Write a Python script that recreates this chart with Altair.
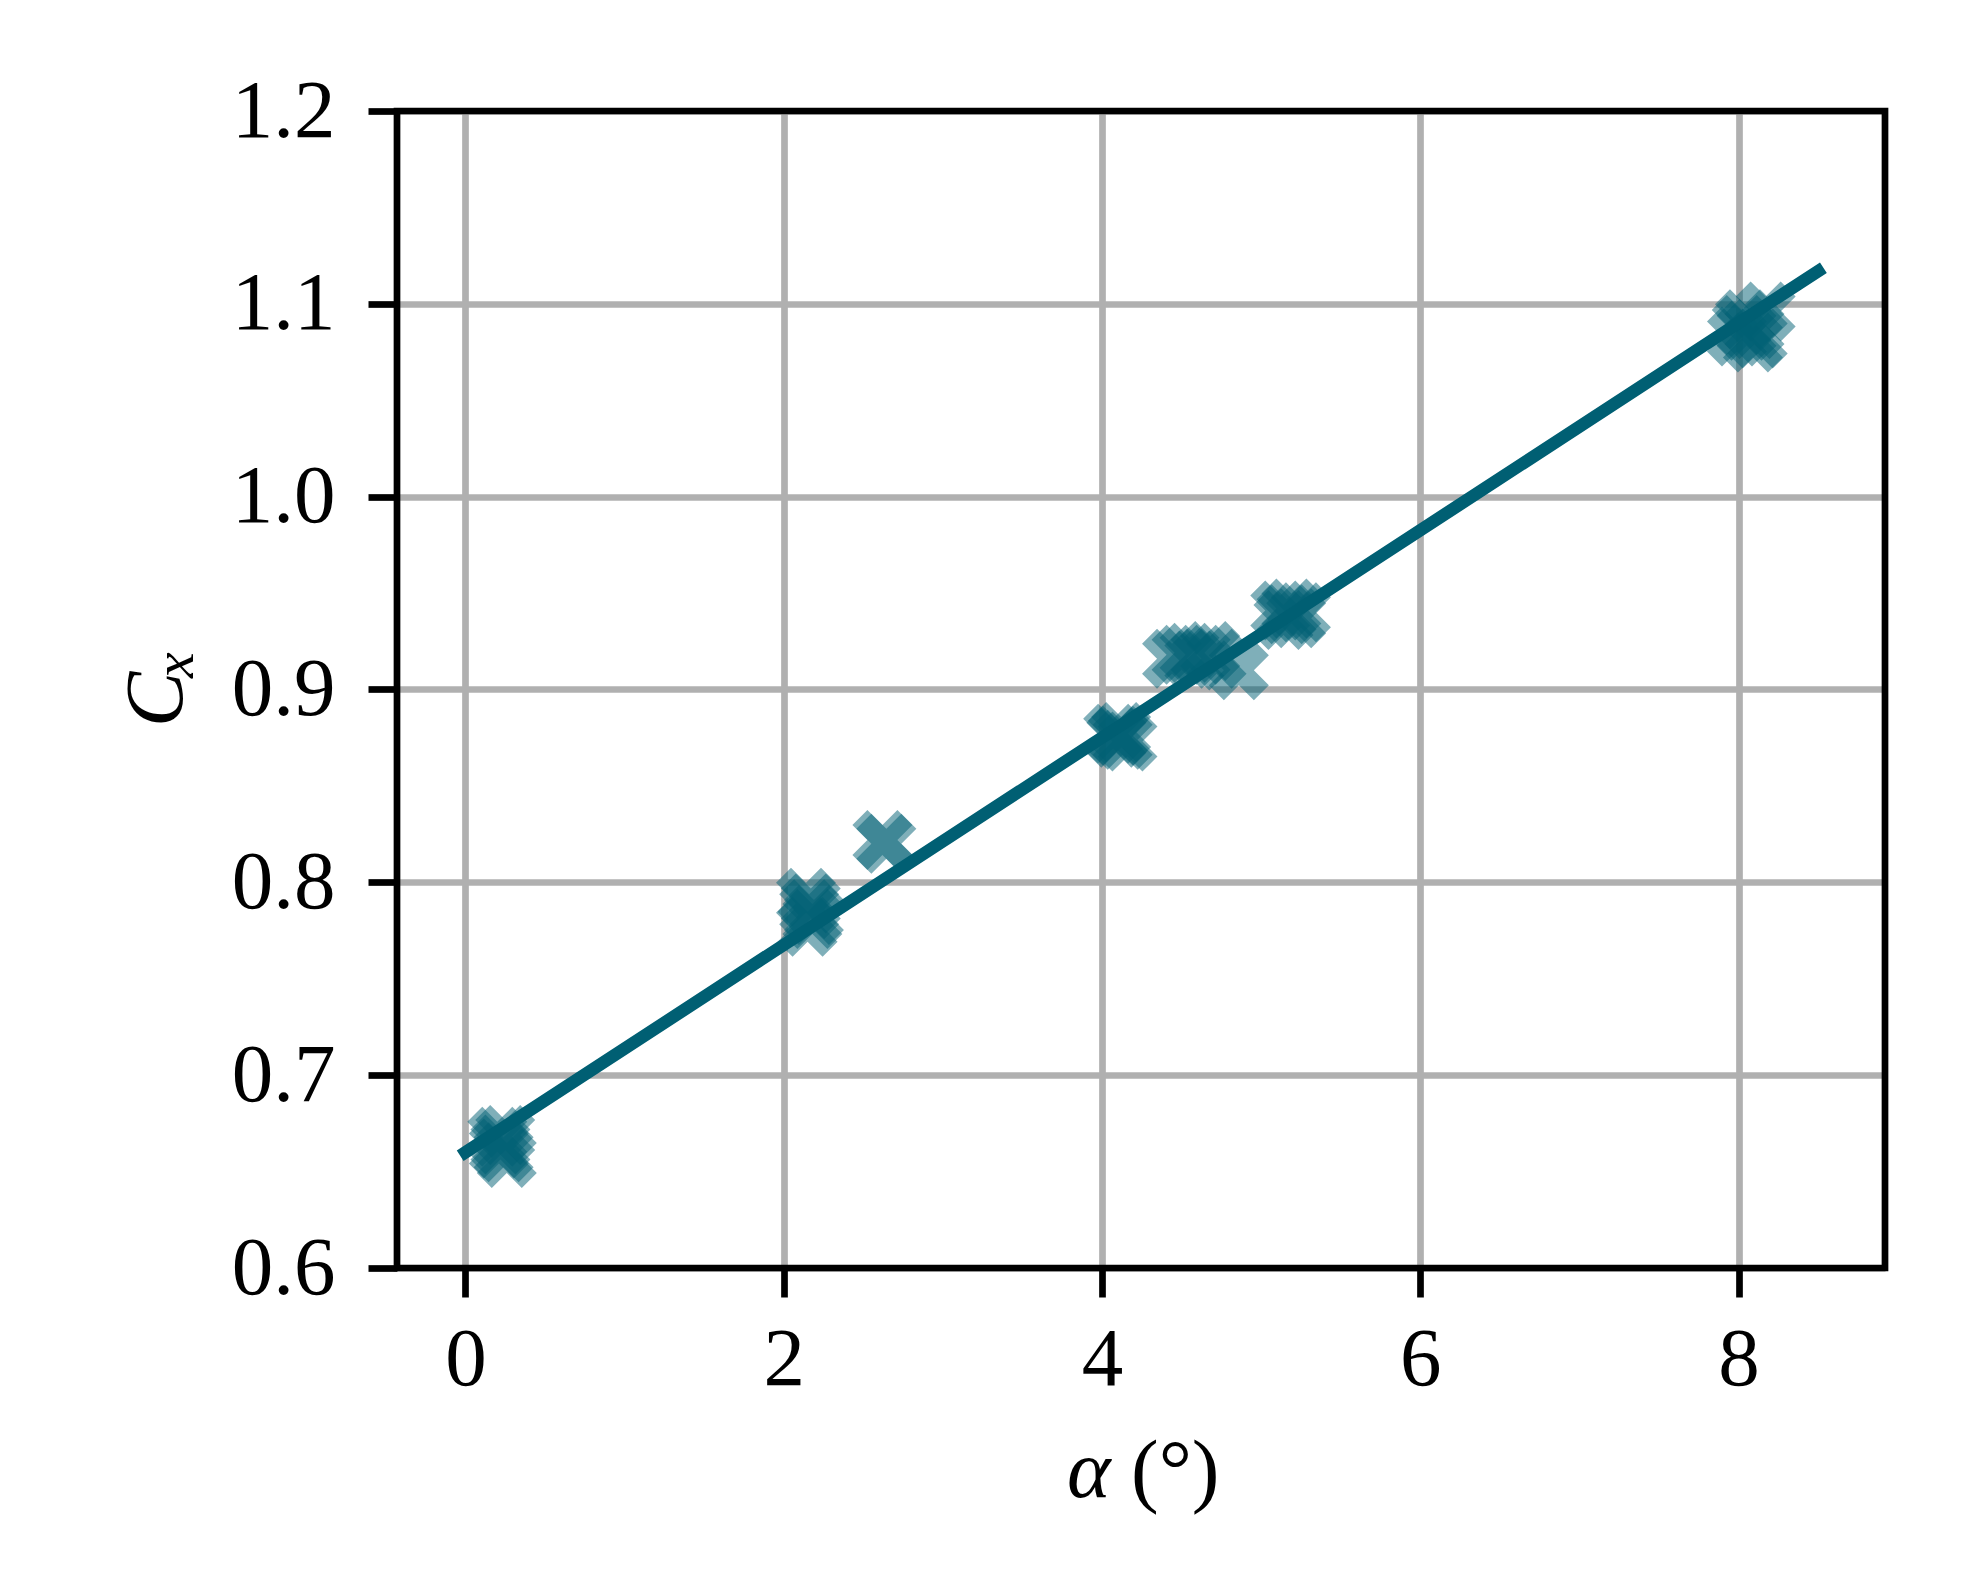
import altair as alt
import pandas as pd

# ---- data ----
alpha_deg = [0.20, 0.22, 0.24, 0.26, 0.21, 0.25,
             2.14, 2.16, 2.18, 2.15, 2.17, 2.19,
             2.62, 2.645,
             4.07, 4.10, 4.13, 4.16, 4.09, 4.12,
             4.44, 4.50, 4.55, 4.58, 4.62, 4.68, 4.72, 4.86,
             5.12, 5.16, 5.19, 5.22, 5.14, 5.25,
             7.99, 8.02, 8.05, 8.09, 8.12, 8.17, 8.04, 8.10]
cx_values = [0.668, 0.664, 0.660, 0.657, 0.662, 0.669,
             0.792, 0.786, 0.781, 0.777, 0.789, 0.783,
             0.822, 0.820,
             0.877, 0.876, 0.874, 0.873, 0.875, 0.878,
             0.916, 0.918, 0.919, 0.915, 0.918, 0.920, 0.916, 0.910,
             0.941, 0.939, 0.942, 0.937, 0.936, 0.940,
             1.083, 1.089, 1.086, 1.080, 1.082, 1.096, 1.092, 1.087]
fit_x = [0.0, 8.5]
fit_y = [0.660, 1.117]
x_ticks = [0, 2, 4, 6, 8]
y_ticks = [0.6, 0.7, 0.8, 0.9, 1.0, 1.1, 1.2]

COLOR = "#005F73"
FONT = "Liberation Serif"
W, H = 1488, 1157
LW = 6.7

pts = pd.DataFrame({"alpha": alpha_deg, "cx": cx_values})
fit = pd.DataFrame({"alpha": fit_x, "cx": fit_y})

xs = alt.Scale(domain=[-0.43, 8.92], nice=False, zero=False)
ys = alt.Scale(domain=[0.6, 1.2], nice=False, zero=False)

xaxis = alt.Axis(values=x_ticks, format="d", title=None, grid=True,
                 gridColor="#b0b0b0", gridWidth=LW, domain=False,
                 tickColor="black", tickWidth=LW, tickSize=29,
                 labelFont=FONT, labelFontSize=83, labelColor="black",
                 labelPadding=21)
yaxis = alt.Axis(values=y_ticks, format=".1f", title=None, grid=True,
                 gridColor="#b0b0b0", gridWidth=LW, domain=False,
                 tickColor="black", tickWidth=LW, tickSize=29,
                 labelFont=FONT, labelFontSize=83, labelColor="black",
                 labelPadding=33)

XPATH = ("M-0.5,-1 L0,-0.5 L0.5,-1 L1,-0.5 L0.5,0 L1,0.5 L0.5,1 "
         "L0,0.5 L-0.5,1 L-1,0.5 L-0.5,0 L-1,-0.5 Z")

scatter = alt.Chart(pts).mark_point(
    shape=XPATH, filled=True, size=3600, opacity=0.5, color=COLOR, strokeWidth=0
).encode(
    x=alt.X("alpha:Q", scale=xs, axis=xaxis),
    y=alt.Y("cx:Q", scale=ys, axis=yaxis),
)

line = alt.Chart(fit).mark_line(
    color=COLOR, strokeWidth=12.5, strokeCap="square"
).encode(
    x=alt.X("alpha:Q", scale=xs),
    y=alt.Y("cx:Q", scale=ys),
)

one = pd.DataFrame({"k": [0]})

frame = alt.Chart(one).mark_rect(
    fillOpacity=0, stroke="black", strokeWidth=LW
).encode(x=alt.value(0), x2=alt.value(W), y=alt.value(0), y2=alt.value(H))

xt1 = alt.Chart(one).mark_text(
    text="α", font=FONT, fontSize=83, fontStyle="italic", align="left",
    baseline="alphabetic", color="black"
).encode(x=alt.value(670), y=alt.value(1386))
xt2 = alt.Chart(one).mark_text(
    text="(°)", font=FONT, fontSize=83, align="left",
    baseline="alphabetic", color="black"
).encode(x=alt.value(734), y=alt.value(1386))

yt1 = alt.Chart(one).mark_text(
    text="C", font=FONT, fontSize=83, fontStyle="italic", align="left",
    baseline="alphabetic", angle=270, color="black"
).encode(x=alt.value(-215), y=alt.value(616))
yt2 = alt.Chart(one).mark_text(
    text="x", font=FONT, fontSize=58, fontStyle="italic", align="left",
    baseline="alphabetic", angle=270, color="black"
).encode(x=alt.value(-204), y=alt.value(567))

chart = alt.layer(scatter, line, frame, xt1, xt2, yt1, yt2).properties(
    width=W, height=H,
    padding={"left": 389, "top": 103, "right": 91, "bottom": 311},
    autosize=alt.AutoSizeParams(type="none"),
    background="white",
).configure_view(stroke=None)

chart.save("out.html", embed_options={"renderer": "svg", "actions": False})
